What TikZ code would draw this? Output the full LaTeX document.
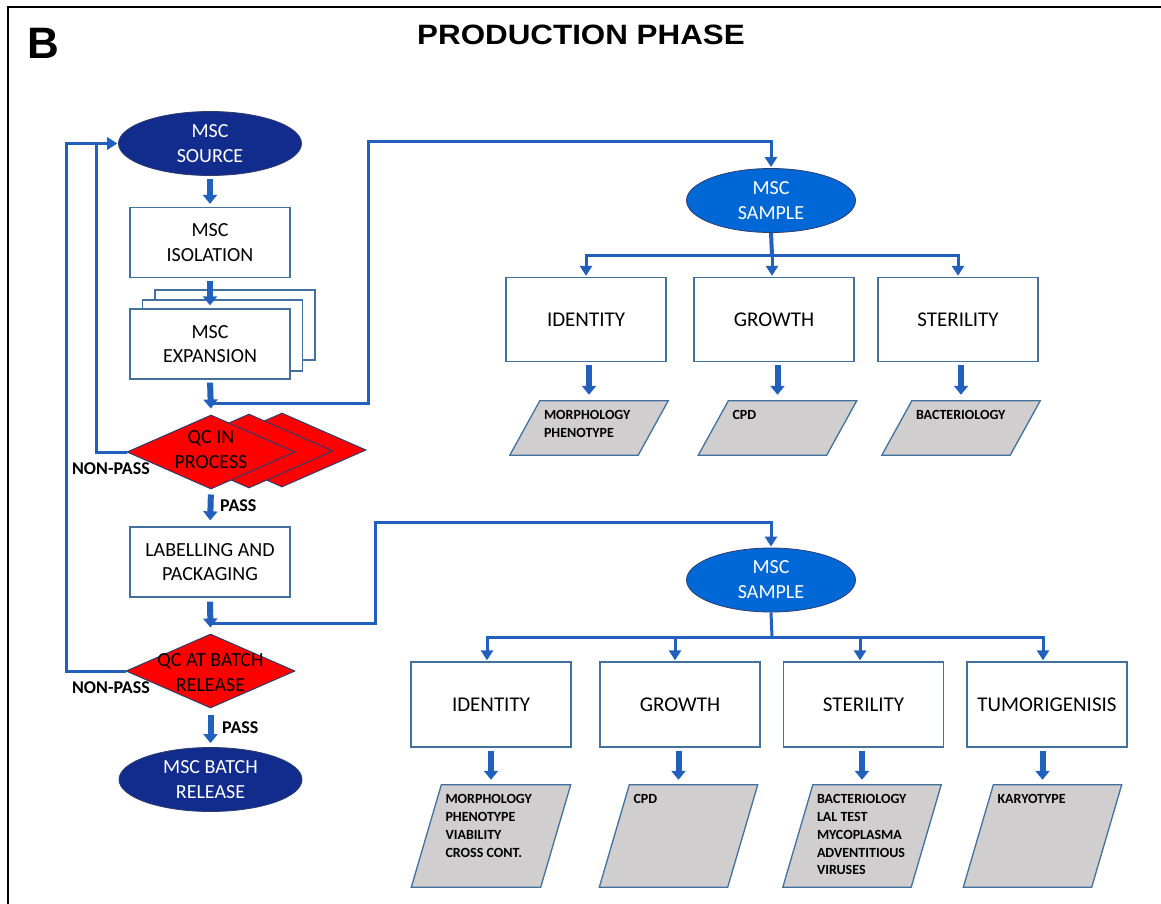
\documentclass[tikz,border=0pt]{standalone}
\usepackage{fontspec}
\setmainfont{Carlito}
\newfontfamily\arialf{Liberation Sans}
\usetikzlibrary{shapes.geometric,arrows.meta,calc}
\definecolor{navy}{HTML}{112C8C}
\definecolor{smpblue}{HTML}{0068D6}
\definecolor{lineblue}{HTML}{2260BE}
\definecolor{boxc}{HTML}{41719C}
\definecolor{parafill}{HTML}{D0CECE}
\definecolor{qcred}{HTML}{FF0000}
\definecolor{qcline}{HTML}{2E3D6B}
\tikzset{
  box/.style={draw=boxc, line width=1.3pt, fill=white, minimum width=160pt, minimum height=70pt,
    inner sep=0pt, align=center, text=black, font=\fontsize{20}{24.5}\selectfont},
  tbox/.style={box, minimum height=84pt, font=\fontsize{21}{25}\selectfont},
  ell/.style={ellipse, draw=qcline, line width=0.8pt, fill=navy, text=white, inner sep=0pt,
    align=center, font=\fontsize{20}{25}\selectfont, minimum width=183pt, minimum height=64pt},
  sell/.style={ell, fill=smpblue, minimum width=169pt},
  dia/.style={diamond, draw=qcline, line width=1pt, fill=qcred, inner sep=0pt,
    minimum width=168pt, minimum height=74pt},
  dtext/.style={inner sep=0pt, align=center, text=black, font=\fontsize{20}{25}\selectfont},
  lab/.style={inner sep=0pt, text=black, font=\fontsize{18}{20}\selectfont\bfseries},
  conn/.style={draw=lineblue, line width=3pt, -{Triangle[width=12pt,length=10pt]}, shorten >=1pt},
  thk/.style={draw=lineblue, line width=6pt, -{Triangle[width=14pt,length=9pt]}, shorten <=3pt, shorten >=3pt},
  paran/.style={inner sep=0pt, draw=none},
  parad/.style={draw=boxc, line width=1.3pt, fill=parafill},
  ptext/.style={inner sep=0pt, align=left, text=black, font=\fontsize{14}{17.8}\selectfont\bfseries},
}
\newcommand\mypara[6]{%
  \node[paran, minimum width=#4pt, minimum height=#5pt] (#1) at (#2,#3) {};
  \draw[parad] ($(#1.south west)+(-15,0)$) -- ($(#1.south east)+(-15,0)$) -- ($(#1.north east)+(15,0)$) -- ($(#1.north west)+(15,0)$) -- cycle;
  \node[ptext, anchor=north west] (#1t) at ($(#1.north west)+(19,9.5)$) {#6};
}
\begin{document}
\begin{tikzpicture}[x=1pt,y=-1pt]
\useasboundingbox (0,0) rectangle (1161,904);
\fill[white] (0,0) rectangle (1161,904);
\draw[line width=1.8pt] (1165,7) -- (8,7) -- (8,910);

\node[inner sep=0pt, font=\arialf\bfseries\fontsize{44}{46}\selectfont] (blbl) at (43.5,43.5) {B};
\node[inner sep=0pt, font=\arialf\bfseries\fontsize{28}{30}\selectfont] (title) at (581,35) {\scalebox{1.12}[1]{PRODUCTION PHASE}};

% left column
\node[ell] (src) at (210,143.5) {MSC\\SOURCE};
\node[box] (iso) at (210,242.5) {MSC\\ISOLATION};
\node[box, minimum height=70pt] (exp3) at (235,325) {};
\node[box, minimum height=71pt] (exp2) at (222.5,335.5) {};
\node[box] (exp) at (210,344) {MSC\\EXPANSION};
\node[dia] (qc1c) at (282,450) {};
\node[dia] (qc1b) at (249,451) {};
\node[dia] (qc1) at (211,452) {};
\node[dtext] (qc1t) at (211,450) {QC IN\\PROCESS};
\node[box] (lab) at (210,562) {LABELLING AND\\PACKAGING};
\node[dia, minimum width=169pt] (qc2) at (210.5,671) {};
\node[dtext] (qc2t) at (210.5,673) {QC AT BATCH\\RELEASE};
\node[ell] (rel) at (210.5,779.5) {MSC BATCH\\RELEASE};

\node[lab, anchor=east] (np1) at (150,469) {NON-PASS};
\node[lab, anchor=east] (np2) at (150,688) {NON-PASS};
\node[lab, anchor=west] (ps1) at (220,506) {PASS};
\node[lab, anchor=west] (ps2) at (222,728) {PASS};

\draw[thk] (src.south) -- (iso.north);
\draw[thk] (iso.south) -- (exp.north);
\draw[thk, shorten >=6pt] (exp.south) -- (qc1.north);
\draw[thk, shorten <=5pt, shorten >=6pt] (qc1.south) -- (lab.north);
\draw[thk, shorten <=4pt, shorten >=6pt] (lab.south) -- (qc2.north);
\draw[thk, shorten <=6pt, shorten >=4pt] (qc2.south) -- (rel.north);

% feedback loops
\coordinate (nl1) at (96,452);
\coordinate (nl2) at (66,671);
\draw[conn] (qc2.west) -- (nl2) |- (src.west);
\draw[conn] (qc1.west) -- (nl1) |- (src.west);

% sample feeds
\coordinate (f1) at (208,403);
\coordinate (f1a) at (368,403);
\coordinate (f1b) at (368,142);
\coordinate (f2) at (208,623);
\coordinate (f2a) at (375,623);
\coordinate (f2b) at (375,522);

% upper right
\node[sell] (smp1) at (771,200.5) {MSC\\SAMPLE};
\draw[conn] (f1) -- (f1a) -- (f1b) -| (smp1.north);
\node[tbox] (id1) at (586,319.5) {IDENTITY};
\node[tbox] (gr1) at (774,319.5) {GROWTH};
\node[tbox] (st1) at (958,319.5) {STERILITY};
\coordinate (b1) at (772,255);
\draw[conn, -, line width=4pt] (smp1.south) -- (b1);
\draw[conn] (b1) -| (id1.north);
\draw[conn] (b1) -- (b1 |- gr1.north);
\draw[conn] (b1) -| (st1.north);

\mypara{p1}{589}{428}{128}{54}{MORPHOLOGY\\PHENOTYPE}
\mypara{p2}{777.5}{428}{128}{54}{CPD}
\mypara{p3}{961}{428}{128}{54}{BACTERIOLOGY}
\draw[thk, shorten >=6pt] (p1.north |- id1.south) -- (p1.north);
\draw[thk, shorten >=6pt] (p2.north |- gr1.south) -- (p2.north);
\draw[thk, shorten >=6pt] (p3.north |- st1.south) -- (p3.north);

% lower right
\node[sell] (smp2) at (771,580) {MSC\\SAMPLE};
\draw[conn] (f2) -- (f2a) -- (f2b) -| (smp2.north);
\node[tbox, minimum height=85pt] (id2) at (491,704.5) {IDENTITY};
\node[tbox, minimum height=85pt] (gr2) at (680,704.5) {GROWTH};
\node[tbox, minimum height=85pt] (st2) at (863.5,704.5) {STERILITY};
\node[tbox, minimum height=85pt] (tu2) at (1047,704.5) {TUMORIGENISIS};
\coordinate (b2) at (772,637);
\draw[conn, -] (smp2.south) -- (b2);
\draw[conn] (b2) -| ([xshift=-4pt]id2.north);
\draw[conn] (b2) -| ([xshift=-5pt]gr2.north);
\draw[conn] (b2) -| ([xshift=-3.5pt]st2.north);
\draw[conn] (b2) -| ([xshift=-4pt]tu2.north);

\mypara{q1}{491}{836}{129}{102}{MORPHOLOGY\\PHENOTYPE\\VIABILITY\\CROSS CONT.}
\mypara{q2}{678.5}{836}{128}{102}{CPD}
\mypara{q3}{862}{836}{128}{102}{BACTERIOLOGY\\LAL TEST\\MYCOPLASMA\\ADVENTITIOUS\\VIRUSES}
\mypara{q4}{1042.5}{836}{128}{102}{KARYOTYPE}
\draw[thk, shorten >=5pt] (q1.north |- id2.south) -- (q1.north);
\draw[thk, shorten >=5pt] (q2.north |- gr2.south) -- (q2.north);
\draw[thk, shorten >=5pt] (q3.north |- st2.south) -- (q3.north);
\draw[thk, shorten >=5pt] (q4.north |- tu2.south) -- (q4.north);
\end{tikzpicture}
\end{document}
